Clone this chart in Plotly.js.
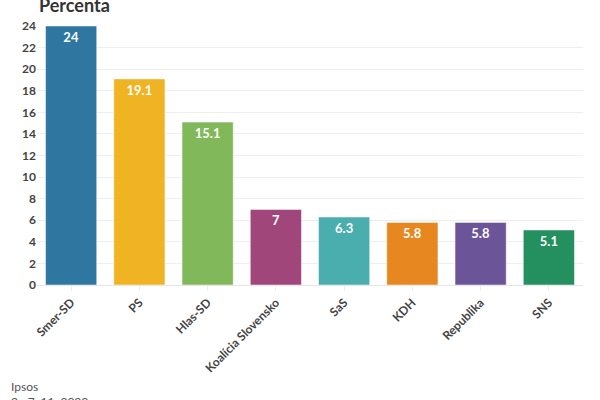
<!DOCTYPE html>
<html><head><meta charset="utf-8">
<script src="https://cdn.plot.ly/plotly-3.0.1.min.js"></script>
<style>html,body{margin:0;padding:0;background:#fff}#c{width:600px;height:400px}</style>
</head><body><div id="c"></div>
<script>
const parties = ["Smer-SD","PS","Hlas-SD","Koalícia Slovensko","SaS","KDH","Republika","SNS"];
const values = [24,19.1,15.1,7,6.3,5.8,5.8,5.1];
const colors = ["#2f77a0","#f0b323","#80b85a","#a0467a","#4aaeae","#e6871f","#6c5498","#24905f"];
const yTicks = [0,2,4,6,8,10,12,14,16,18,20,22,24];
const FONT = "Lato, 'Noto Sans', sans-serif";

const trace = {
  type: "bar",
  x: parties,
  y: values,
  text: values.map(v => "<b>" + v + "</b>"),
  textposition: "inside",
  insidetextanchor: "end",
  textangle: 0,
  textfont: {family: FONT, size: 13, color: "#ffffff"},
  marker: {color: colors, line: {color: "rgba(255,255,255,0.5)", width: 1}},
  hoverinfo: "none"
};
const layout = {
  width: 600, height: 400,
  margin: {l: 37, r: 17, t: 26, b: 115},
  paper_bgcolor: "#ffffff", plot_bgcolor: "#ffffff",
  bargap: 0.25,
  showlegend: false,
  font: {family: FONT, color: "#444"},
  xaxis: {tickangle: -45, tickvals: parties, ticktext: parties.map(p => "<b>" + p + "</b>"),
          tickfont: {size: 12, color: "#444"}, ticks: "outside", ticklen: 5, tickcolor: "#eee", showline: false, fixedrange: true},
  yaxis: {range: [0, 24], tickvals: yTicks, ticktext: yTicks.map(t => "<b>" + t + "</b>"), tickfont: {size: 12, color: "#444"},
          gridcolor: "#eeeeee", zeroline: true, zerolinecolor: "#e6e6e6", ticks: "", fixedrange: true},
  annotations: [
    {text: "<b>Percenta</b>", xref: "paper", yref: "paper", x: 0, y: 1.03, xanchor: "left", yanchor: "bottom", showarrow: false,
     font: {size: 18, color: "#333", family: FONT}},
    {text: "Ipsos", xref: "paper", yref: "paper", x: -0.052, y: -0.355, xanchor: "left", yanchor: "top", showarrow: false,
     font: {size: 12, color: "#555", family: FONT}},
    {text: "2.–7. 11. 2023", xref: "paper", yref: "paper", x: -0.052, y: -0.412, xanchor: "left", yanchor: "top", showarrow: false,
     font: {size: 12, color: "#555", family: FONT}}
  ]
};
Plotly.newPlot("c", [trace], layout, {displayModeBar: false, staticPlot: true});
</script></body></html>
